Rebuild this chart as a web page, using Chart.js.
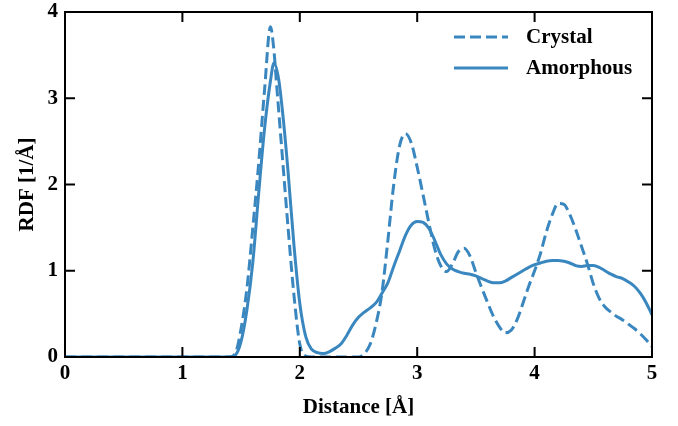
<!DOCTYPE html>
<html>
<head>
<meta charset="utf-8">
<script src="https://cdn.jsdelivr.net/npm/chart.js@4.4.1/dist/chart.umd.min.js"></script>
<style>
html,body{margin:0;padding:0;background:#fff;}
#wrap{width:678px;height:426px;position:relative;}
</style>
</head>
<body>
<div id="wrap"><canvas id="c" width="678" height="426"></canvas></div>
<script>
const seriesLabels = ["Crystal", "Amorphous"];
const xCrystal = [0, 0.5, 1.0, 1.4, 1.45, 1.5, 1.55, 1.6, 1.65, 1.7, 1.75, 1.78, 1.8, 1.85, 1.9, 1.95, 2.0, 2.05, 2.1, 2.3, 2.5, 2.55, 2.6, 2.65, 2.7, 2.75, 2.8, 2.85, 2.9, 2.95, 3.0, 3.05, 3.1, 3.15, 3.2, 3.25, 3.3, 3.35, 3.4, 3.45, 3.5, 3.55, 3.6, 3.65, 3.7, 3.75, 3.8, 3.85, 3.9, 3.95, 4.0, 4.05, 4.1, 4.15, 4.2, 4.25, 4.3, 4.35, 4.4, 4.45, 4.5, 4.55, 4.6, 4.65, 4.7, 4.75, 4.8, 4.85, 4.9, 4.95, 5.0];
const yCrystal = [0, 0, 0, 0, 0.04, 0.33, 0.8, 1.5, 2.25, 3.1, 3.83, 3.55, 3.2, 2.35, 1.5, 0.72, 0.15, 0.01, 0, 0, 0, 0.04, 0.15, 0.39, 0.75, 1.35, 2.0, 2.45, 2.59, 2.48, 2.2, 1.88, 1.55, 1.25, 1.06, 0.99, 1.08, 1.22, 1.26, 1.17, 0.98, 0.8, 0.63, 0.47, 0.35, 0.28, 0.31, 0.43, 0.62, 0.82, 1.0, 1.2, 1.45, 1.65, 1.78, 1.77, 1.65, 1.48, 1.28, 1.08, 0.85, 0.68, 0.58, 0.52, 0.47, 0.43, 0.38, 0.33, 0.27, 0.2, 0.12];
const xAmorphous = [0, 0.5, 1.0, 1.4, 1.45, 1.5, 1.55, 1.6, 1.65, 1.7, 1.75, 1.78, 1.82, 1.86, 1.9, 1.95, 2.0, 2.05, 2.1, 2.15, 2.2, 2.25, 2.3, 2.35, 2.4, 2.45, 2.5, 2.55, 2.6, 2.65, 2.7, 2.75, 2.8, 2.85, 2.9, 2.95, 3.0, 3.05, 3.1, 3.15, 3.2, 3.25, 3.3, 3.35, 3.4, 3.45, 3.5, 3.55, 3.6, 3.65, 3.7, 3.75, 3.8, 3.85, 3.9, 3.95, 4.0, 4.05, 4.1, 4.15, 4.2, 4.25, 4.3, 4.35, 4.4, 4.45, 4.5, 4.55, 4.6, 4.65, 4.7, 4.75, 4.8, 4.85, 4.9, 4.95, 5.0];
const yAmorphous = [0, 0, 0, 0, 0.02, 0.18, 0.55, 1.1, 1.9, 2.65, 3.2, 3.41, 3.22, 2.75, 2.15, 1.3, 0.62, 0.24, 0.09, 0.05, 0.04, 0.06, 0.1, 0.15, 0.25, 0.37, 0.46, 0.52, 0.57, 0.63, 0.74, 0.86, 1.05, 1.23, 1.41, 1.53, 1.57, 1.56, 1.49, 1.35, 1.19, 1.08, 1.02, 0.99, 0.97, 0.96, 0.94, 0.91, 0.88, 0.86, 0.86, 0.88, 0.92, 0.96, 1.0, 1.04, 1.07, 1.09, 1.11, 1.12, 1.12, 1.11, 1.09, 1.06, 1.05, 1.06, 1.06, 1.04, 1.0, 0.96, 0.93, 0.91, 0.87, 0.82, 0.74, 0.63, 0.49];
const xTicks = [0, 1, 2, 3, 4, 5];
const yTicks = [0, 1, 2, 3, 4];

const COLOR = '#3a87c0';
const FONT = '"Liberation Serif", "Times New Roman", serif';
const FS = 21;

function pts(xs, ys){ return xs.map((x,i)=>({x:x, y:ys[i]})); }

const framePlugin = {
  id: 'frame',
  afterDraw(chart){
    const ctx = chart.ctx, a = chart.chartArea;
    const xs = chart.scales.x, ys = chart.scales.y;
    ctx.save();
    ctx.strokeStyle = '#000';
    ctx.lineWidth = 2;
    ctx.strokeRect(a.left, a.top, a.right - a.left, a.bottom - a.top);
    const L = 10;
    ctx.beginPath();
    xTicks.forEach(v => {
      const p = xs.getPixelForValue(v);
      ctx.moveTo(p, a.bottom); ctx.lineTo(p, a.bottom - L);
      ctx.moveTo(p, a.top); ctx.lineTo(p, a.top + L);
    });
    yTicks.forEach(v => {
      const p = ys.getPixelForValue(v);
      ctx.moveTo(a.left, p); ctx.lineTo(a.left + L, p);
      ctx.moveTo(a.right, p); ctx.lineTo(a.right - L, p);
    });
    ctx.stroke();
    // legend
    const items = chart.data.datasets;
    const x0 = a.left + 389, x1 = a.left + 443, tx = a.left + 461;
    const rows = [a.top + 25, a.top + 56];
    ctx.font = 'bold ' + FS + 'px ' + FONT;
    ctx.textBaseline = 'middle';
    ctx.textAlign = 'left';
    items.forEach((ds, i) => {
      const y = rows[i];
      ctx.strokeStyle = ds.borderColor;
      ctx.lineWidth = ds.borderWidth;
      ctx.setLineDash(ds.borderDash || []);
      ctx.beginPath(); ctx.moveTo(x0, y); ctx.lineTo(x1, y); ctx.stroke();
      ctx.setLineDash([]);
      ctx.fillStyle = '#000';
      ctx.fillText(ds.label, tx, y + 1);
    });
    ctx.restore();
  }
};

new Chart(document.getElementById('c'), {
  type: 'line',
  data: {
    datasets: [
      { label: seriesLabels[0], data: pts(xCrystal, yCrystal), borderColor: COLOR, borderWidth: 3, borderDash: [11, 5], pointRadius: 0, fill: false, cubicInterpolationMode: 'monotone' },
      { label: seriesLabels[1], data: pts(xAmorphous, yAmorphous), borderColor: COLOR, borderWidth: 3, pointRadius: 0, fill: false, cubicInterpolationMode: 'monotone' }
    ]
  },
  options: {
    responsive: false,
    animation: false,
    layout: { padding: { left: 0, right: 26, top: 12, bottom: 0 } },
    plugins: { legend: { display: false }, tooltip: { enabled: false } },
    scales: {
      x: {
        type: 'linear', min: 0, max: 5,
        afterBuildTicks(s){ s.ticks = xTicks.map(v => ({value: v})); },
        afterFit(s){ s.height = 69; s.paddingLeft = 0; s.paddingRight = 0; },
        grid: { display: false, drawTicks: false },
        border: { display: false },
        ticks: { color: '#000', font: { family: FONT, size: FS, weight: 'bold' }, padding: 4, maxRotation: 0 },
        title: { display: true, text: 'Distance [Å]', color: '#000', font: { family: FONT, size: FS, weight: 'bold' }, padding: { top: 0, bottom: 6 } }
      },
      y: {
        type: 'linear', min: 0, max: 4,
        afterBuildTicks(s){ s.ticks = yTicks.map(v => ({value: v})); },
        afterFit(s){ s.width = 65; s.paddingTop = 0; s.paddingBottom = 0; },
        grid: { display: false, drawTicks: false },
        border: { display: false },
        ticks: { color: '#000', font: { family: FONT, size: FS, weight: 'bold' }, padding: 7 },
        title: { display: true, text: 'RDF [1/Å]', color: '#000', font: { family: FONT, size: FS, weight: 'bold' }, padding: { top: 15, bottom: 0 } }
      }
    }
  },
  plugins: [framePlugin]
});
</script>
</body>
</html>
